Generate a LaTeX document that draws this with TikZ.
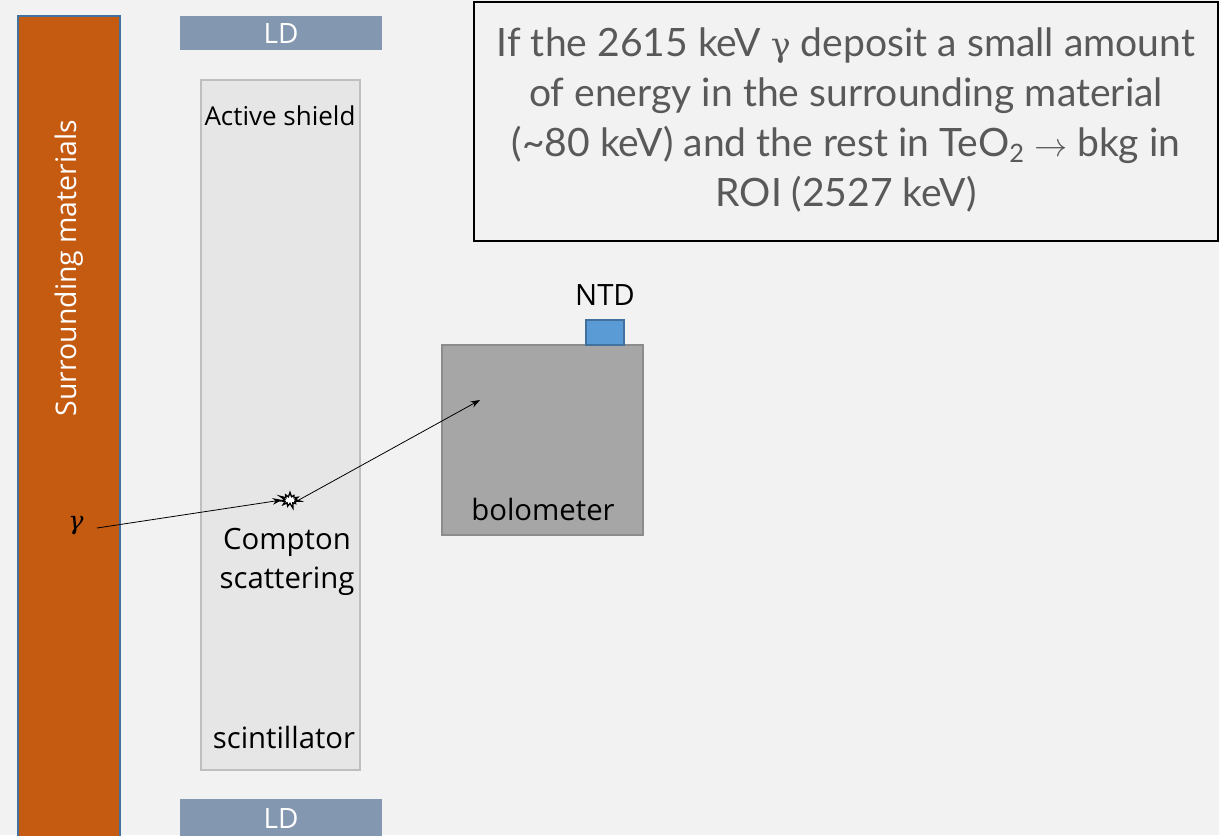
\documentclass[tikz,border=0pt]{standalone}
\usepackage{fontspec}
\setmainfont{Open Sans}
\newfontfamily\boxfont{Lato}
\newfontfamily\symfont{DejaVu Serif}
\usetikzlibrary{shapes.symbols,arrows.meta}
\definecolor{bg}{HTML}{F2F2F2}
\definecolor{orangebar}{HTML}{C55A11}
\definecolor{barline}{HTML}{41719C}
\definecolor{ldfill}{HTML}{8497B0}
\definecolor{shieldfill}{HTML}{E6E6E6}
\definecolor{shieldline}{HTML}{BFBFBF}
\definecolor{bolofill}{HTML}{A6A6A6}
\definecolor{bololine}{HTML}{8C8C8C}
\definecolor{ntdfill}{HTML}{5B9BD5}
\definecolor{boxtext}{HTML}{595959}
\tikzset{
  lbl/.style={font=\fontsize{22}{25}\selectfont, text=black, inner sep=0pt},
  ldbar/.style={fill=ldfill, draw=none},
  ldtext/.style={font=\fontsize{21}{24}\selectfont, text=white, inner sep=0pt},
  conn/.style={draw=black, line width=0.6pt, -{Stealth[length=7pt,width=5pt]}},
}
\begin{document}
\begin{tikzpicture}[x=0.75pt,y=-0.75pt]
\useasboundingbox (0,0) rectangle (1219,835);
\fill[bg] (0,0) rectangle (1219,835);
% surrounding materials
\draw[fill=orangebar, draw=barline, line width=1pt] (18,16) -- (18,840) -- (120,840) -- (120,16) -- cycle;
\node[rotate=90, text=white, font=\fontsize{21.3}{24}\selectfont, inner sep=0pt] (surr) at (69,268) {Surrounding materials};
% LDs
\fill[ldbar] (180,16) rectangle (382,50);
\node[ldtext] (ldtop) at (281,34) {LD};
\fill[ldbar] (180,799) rectangle (382,840);
\node[ldtext] (ldbot) at (281,818) {LD};
% active shield
\draw[fill=shieldfill, draw=shieldline, line width=0.8pt] (201,80) rectangle (360,770);
\node[lbl, font=\fontsize{19.5}{22}\selectfont] (act) at (280,116) {Active shield};
\node[lbl] (scint) at (284,737) {scintillator};
% text box
\draw[fill=bg, draw=black, line width=1.2pt] (474,2) rectangle (1218,241);
\node[text=boxtext, font=\boxfont\fontsize{29.3}{37.5}\selectfont, align=center, inner sep=0pt] (txt) at (846,120)
 {If the 2615 keV {\symfont\fontsize{25}{30}\selectfont γ} deposit a small amount\\ of energy in the surrounding material\\ (\textasciitilde 80 keV) and the rest in TeO\raisebox{-0.3ex}{\fontsize{19}{20}\selectfont 2} $\rightarrow$ bkg in\\ ROI (2527 keV)};
% bolometer
\draw[fill=bolofill, draw=bololine, line width=0.8pt] (442,345) rectangle (643,535);
\node[lbl] (bolo) at (543,509) {bolometer};
\draw[fill=ntdfill, draw=barline, line width=0.8pt] (586,320) rectangle (624,345);
\node[lbl] (ntdl) at (605,295) {NTD};
% gamma path
\node[font=\symfont\itshape\fontsize{19}{22}\selectfont, inner sep=0pt] (gam) at (76,526) {γ};
\coordinate (gstart) at (97,528);
\node[starburst, starburst points=11, starburst point height=4.5pt, fill=white, draw=black, line width=1pt, inner sep=0pt, minimum width=17pt, minimum height=14pt] (burst) at (290,500) {};
\coordinate (target) at (480,400);
\draw[conn] (gstart) -- (burst.west);
\draw[conn] (burst.east) -- (target);
\node[lbl, align=center] (compton) at (287,562) {Compton\\[4pt] scattering};
\end{tikzpicture}
\end{document}
